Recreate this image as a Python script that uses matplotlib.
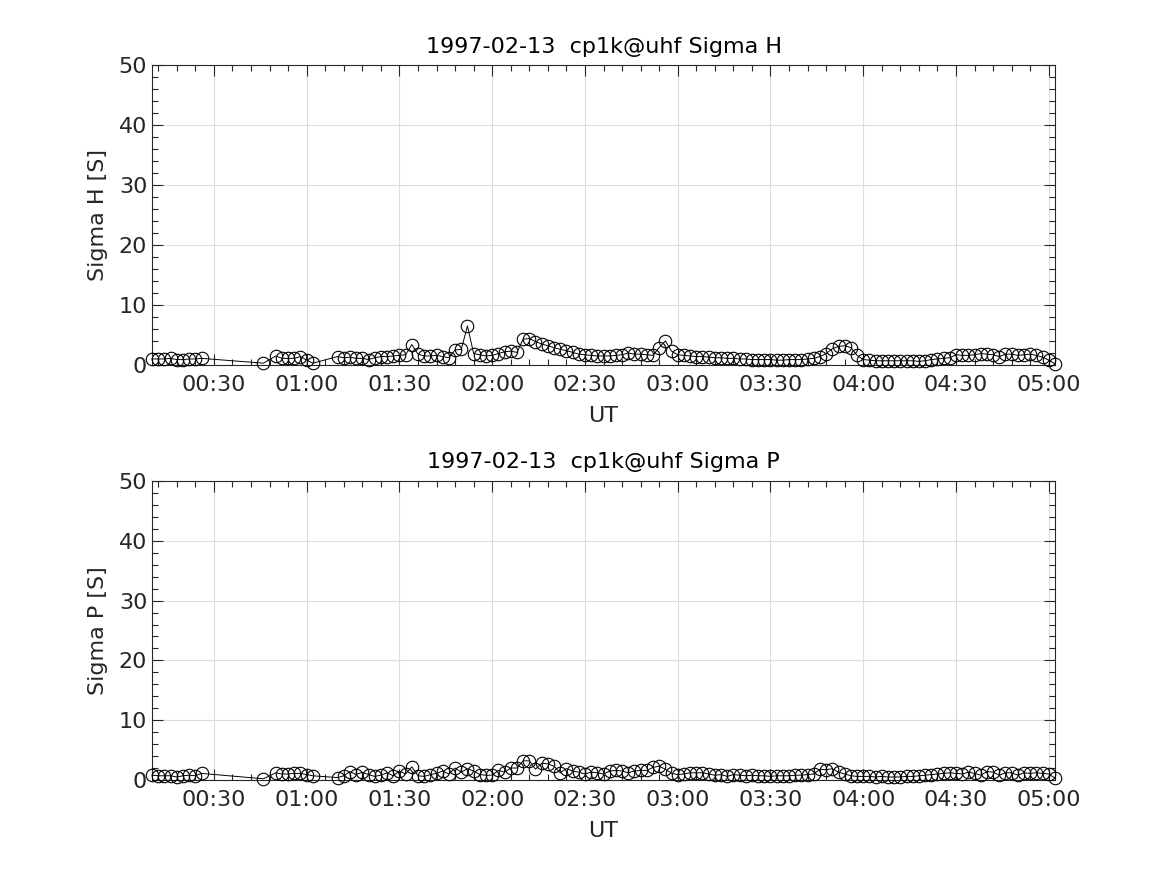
import numpy as np
import matplotlib
matplotlib.use("Agg")
import matplotlib.pyplot as plt
import matplotlib.dates as mdates

# sample times (minutes after midnight UT), 2-min integration with gaps
t_min = ([10, 12, 14, 16, 18, 20, 22, 24, 26, 46, 50, 52, 54, 56, 58, 60, 62]
         + list(range(70, 303, 2)))

sigma_h = [1.0, 1.0, 1.0, 1.1, 0.9, 0.9, 1.0, 1.0, 1.1,
           0.3,
           1.5, 1.1, 1.1, 1.1, 1.4, 0.8, 0.3,
           1.4, 1.2, 1.3, 1.1, 1.1, 0.9, 1.2, 1.4, 1.4, 1.5,
           1.6, 1.7, 3.4, 1.8, 1.5, 1.5, 1.6, 1.4, 1.2, 2.5,
           2.6, 6.5, 1.9, 1.7, 1.5, 1.6, 1.9, 2.2, 2.3, 2.1,
           4.3, 4.4, 3.9, 3.5, 3.2, 2.9, 2.6, 2.4, 2.1, 1.8,
           1.7, 1.6, 1.5, 1.5, 1.5, 1.6, 1.7, 2.0, 1.8, 1.8,
           1.7, 1.6, 2.9, 4.0, 2.3, 1.7, 1.6, 1.5, 1.4, 1.4,
           1.3, 1.2, 1.2, 1.1, 1.1, 1.0, 1.0, 0.9, 0.9, 0.9,
           0.9, 0.8, 0.8, 0.9, 0.9, 0.9, 1.0, 1.1, 1.4, 1.9,
           2.7, 3.1, 3.2, 2.9, 1.6, 0.9, 0.8, 0.7, 0.7, 0.7,
           0.7, 0.7, 0.7, 0.7, 0.6, 0.7, 0.9, 1.0, 1.1, 1.2,
           1.7, 1.6, 1.6, 1.7, 1.9, 1.8, 1.7, 1.4, 1.8, 1.8,
           1.6, 1.7, 1.8, 1.6, 1.3, 0.8, 0.2]

sigma_p = [0.8, 0.7, 0.7, 0.7, 0.5, 0.7, 0.8, 0.7, 1.1,
           0.2,
           1.2, 1.0, 1.0, 1.1, 1.1, 0.9, 0.7,
           0.4, 0.7, 1.4, 0.9, 1.3, 0.9, 0.6, 0.8, 1.2, 0.7,
           1.5, 1.0, 2.2, 0.7, 0.6, 0.9, 1.1, 1.5, 1.0, 2.0,
           1.3, 1.9, 1.5, 0.9, 0.8, 0.8, 1.6, 1.3, 2.0, 2.0,
           3.2, 3.2, 1.8, 2.8, 2.7, 2.3, 1.2, 1.9, 1.5, 1.3,
           1.0, 1.3, 1.2, 1.0, 1.5, 1.6, 1.5, 1.2, 1.5, 1.6,
           1.6, 2.1, 2.3, 1.8, 1.1, 0.9, 1.0, 1.2, 1.2, 1.2,
           1.0, 0.8, 0.9, 0.6, 0.9, 0.8, 0.7, 0.8, 0.7, 0.7,
           0.6, 0.7, 0.7, 0.7, 0.8, 0.8, 0.9, 1.0, 1.8, 1.7,
           1.9, 1.3, 1.0, 0.7, 0.6, 0.6, 0.6, 0.5, 0.6, 0.5,
           0.5, 0.5, 0.6, 0.6, 0.7, 0.8, 0.9, 1.0, 1.1, 1.2,
           1.1, 1.0, 1.3, 1.1, 0.8, 1.4, 1.3, 0.8, 1.2, 1.2,
           0.8, 1.2, 1.1, 1.2, 1.1, 1.0, 0.3]

date = "1997-02-13"
site = "cp1k@uhf"

times = np.datetime64(date + "T00:00") + np.array(t_min).astype("timedelta64[m]")

plt.rcParams["font.family"] = "DejaVu Sans"
txt = "#262626"

fig = plt.figure(figsize=(11.67, 8.75), dpi=100)
ax1 = fig.add_axes([0.1303, 0.5829, 0.7737, 0.3428])
ax2 = fig.add_axes([0.1303, 0.1086, 0.7737, 0.3417])

for ax, vals, name in [(ax1, sigma_h, "Sigma H"), (ax2, sigma_p, "Sigma P")]:
    ax.plot(times, vals, color="black", linewidth=0.7, marker="o",
            markersize=9, markerfacecolor="none", markeredgecolor="black",
            markeredgewidth=0.8, clip_on=False, zorder=3)
    ax.set_xlim(times[0], times[-1])
    ax.set_ylim(0, 50)
    ax.set_yticks(np.arange(0, 51, 10))
    ax.yaxis.set_minor_locator(matplotlib.ticker.MultipleLocator(2))
    ax.xaxis.set_major_locator(mdates.MinuteLocator(byminute=[0, 30]))
    ax.xaxis.set_minor_locator(mdates.MinuteLocator(byminute=range(0, 60, 6)))
    ax.xaxis.set_major_formatter(mdates.DateFormatter("%H:%M"))
    ax.grid(True, which="major", color="#dcdcdc", linewidth=0.8)
    ax.set_axisbelow(True)
    ax.tick_params(which="both", direction="in", top=True, right=True,
                   labelsize=16, labelcolor=txt, color="#262626")
    ax.tick_params(axis="x", which="major", pad=7)
    ax.tick_params(which="major", length=8, width=0.8)
    ax.tick_params(which="minor", length=4, width=0.8)
    for s in ax.spines.values():
        s.set_color("#262626")
        s.set_linewidth(0.8)
    ax.set_title(f"{date}  {site} {name}", fontsize=16, color="black", pad=9)
    ax.set_ylabel(f"{name} [S]", fontsize=16, color=txt, labelpad=8)
    ax.set_xlabel("UT", fontsize=16, color=txt, labelpad=8)

fig.savefig("out.png", dpi=100)
